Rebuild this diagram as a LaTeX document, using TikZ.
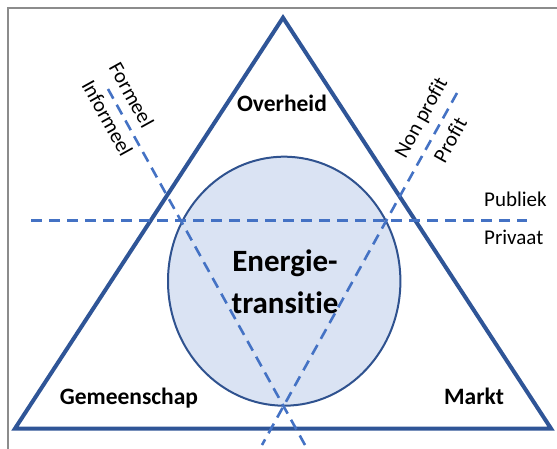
\documentclass[tikz,border=0pt]{standalone}
\usepackage{fontspec}
\setmainfont{Carlito}[Ligatures={NoCommon,NoContextual,NoRare}]
\definecolor{donker}{RGB}{47,85,151}
\definecolor{rand}{RGB}{47,82,143}
\definecolor{vul}{RGB}{218,227,243}
\definecolor{stip}{RGB}{68,114,196}
\begin{document}
\begin{tikzpicture}[x=1pt, y=-1pt,
  hoek/.style={font=\fontsize{23.5}{28}\selectfont\bfseries, anchor=base, inner sep=0},
  groot/.style={font=\fontsize{31}{37}\selectfont\bfseries, anchor=base, inner sep=0},
  klein/.style={font=\fontsize{21}{25}\selectfont, inner sep=0},
  stippel/.style={stip, line width=2.6pt, dash pattern=on 11pt off 7pt}]
\useasboundingbox (0,0) rectangle (557,449);
\draw [gray!90, line width=2pt] (7.5,449) -- (7.5,8.5) -- (557,8.5);
\coordinate (O) at (283,17.7); \coordinate (G) at (15,428.5); \coordinate (M) at (551,428.5);
\draw [donker, line width=4pt] (G) -- (M) -- (O) -- cycle;
\coordinate (kern) at (284.2,281.2);
\draw [rand, fill=vul, line width=2pt] (kern) ellipse [x radius=116.2, y radius=124.5];
\coordinate (pu1) at (31,220.7); \coordinate (pu2) at (527,220.7);
\coordinate (fo1) at (108,89); \coordinate (fo2) at (305,445);
\coordinate (pr1) at (457,93); \coordinate (pr2) at (262,445);
\draw [stippel] (pu1) -- (pu2);
\draw [stippel] (fo1) -- (fo2);
\draw [stippel] (pr1) -- (pr2);
\node [hoek] (overheid) at (282,112) {Overheid};
\node [hoek] (gemeenschap) at (129,404) {Gemeenschap};
\node [hoek] (markt) at (474,404) {Markt};
\node [groot] (energie) at (285,271.7) {Energie-};
\node [groot] (transitie) at (285,313) {transitie};
\node [klein, anchor=base west] (publiek) at (484,206.7) {Publiek};
\node [klein, anchor=base west] (privaat) at (484,245) {Privaat};
\node [klein, rotate=-61] (formeel) at (131.7,95) {Formeel};
\node [klein, rotate=-61] (informeel) at (107.5,118) {Informeel};
\node [klein, rotate=61] (nonprofit) at (422,118) {Non profit};
\node [klein, rotate=61] (profit) at (450,140) {Profit};
\end{tikzpicture}
\end{document}
